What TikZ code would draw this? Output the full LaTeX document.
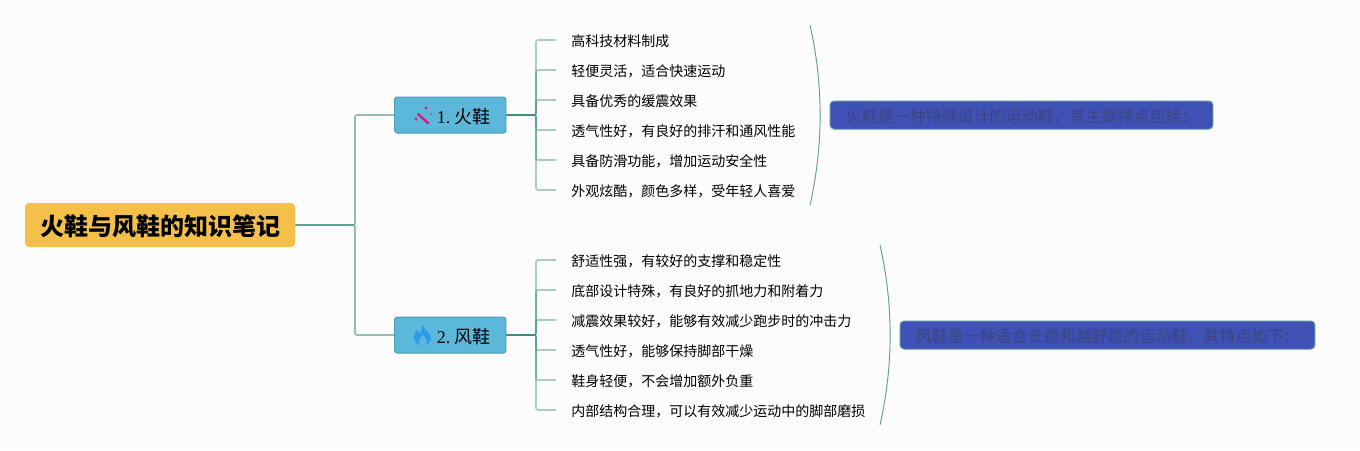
\documentclass[tikz,border=0pt]{standalone}
\usepackage{fontspec}
\setmainfont{Liberation Serif}
\newfontfamily\cjk{Noto Sans CJK SC}
\definecolor{pagebg}{HTML}{FCFCFC}
\definecolor{rootfill}{HTML}{F5C04A}
\definecolor{topicfill}{HTML}{5BB8DA}
\definecolor{topicline}{HTML}{4F9DB5}
\definecolor{notefill}{HTML}{3F51B5}
\definecolor{noteline}{HTML}{5A8FA8}
\definecolor{notetext}{HTML}{3D4580}
\definecolor{linkc}{HTML}{3A8A78}
\definecolor{wandc}{HTML}{D81B7A}
\definecolor{flamec}{HTML}{2E9BE6}
\tikzset{
  rootbox/.style={fill=rootfill, rounded corners=3pt, minimum width=202.5pt, minimum height=33pt, inner sep=0pt, text height=17.8pt, text depth=2pt, font=\cjk\bfseries\fontsize{18}{20}\selectfont},
  topicbox/.style={fill=topicfill, draw=topicline, line width=.75pt, rounded corners=2pt, minimum height=27pt, text width=61pt, inner xsep=11.25pt, inner ysep=0pt, align=right, text height=13.7pt, text depth=1.5pt, font=\fontsize{13.5}{15}\selectfont},
  itemtext/.style={anchor=west, inner xsep=11.25pt, inner ysep=0pt, text height=10.5pt, text depth=1pt, font=\cjk\fontsize{10.5}{12}\selectfont},
  notebox/.style={fill=notefill, draw=noteline, line width=.75pt, rounded corners=3pt, minimum height=21pt, inner sep=0pt, text=notetext, text height=12pt, text depth=1.3pt, font=\cjk\fontsize{12}{14}\selectfont},
  link/.style={draw=linkc, draw opacity=.55, line width=1.2pt, rounded corners=1.5pt},
  twig/.style={draw=linkc, draw opacity=.42, line width=1.2pt, rounded corners=1.5pt},
  brace/.style={draw=linkc, draw opacity=.8, line width=.7pt}
}
\begin{document}
\begin{tikzpicture}[x=.75pt, y=-.75pt]
    \fill[pagebg] (0,0) rectangle (1360,450);
    % root and the two topics
    \node[rootbox] (root) at (160,225) {火鞋与风鞋的知识笔记};
    \node[topicbox] (fire) at (450.3,115) {1.\hspace{3.5pt}{\cjk 火鞋}};
    \node[topicbox] (wind) at (450.3,335) {2.\hspace{3.5pt}{\cjk 风鞋}};
    \coordinate (fork) at (355,225);
    \draw[link] (root.east) -- (fork) |- (fire.west);
    \draw[link] (root.east) -- (fork) |- (wind.west);
    % items of the first topic
    \coordinate (fireS) at (536,115);
    \foreach \i/\t in {1/高科技材料制成, 2/轻便灵活，适合快速运动, 3/具备优秀的缓震效果, 4/透气性好，有良好的排汗和通风性能, 5/具备防滑功能，增加运动安全性, 6/外观炫酷，颜色多样，受年轻人喜爱} {
        \node[itemtext] (f\i) at (556,10+30*\i) {\t};
        \draw[twig] (fire.east) -- (fireS) |- (f\i.west);
    }
    % items of the second topic
    \coordinate (windS) at (536,335);
    \foreach \i/\t in {1/舒适性强，有较好的支撑和稳定性, 2/底部设计特殊，有良好的抓地力和附着力, 3/减震效果较好，能够有效减少跑步时的冲击力, 4/透气性好，能够保持脚部干燥, 5/鞋身轻便，不会增加额外负重, 6/内部结构合理，可以有效减少运动中的脚部磨损} {
        \node[itemtext] (w\i) at (556,230+30*\i) {\t};
        \draw[twig] (wind.east) -- (windS) |- (w\i.west);
    }
    % summary brackets and notes
    \coordinate (fireT) at (810,25);
    \coordinate (fireB) at (810,205);
    \coordinate (windT) at (880,245);
    \coordinate (windB) at (880,425);
    \draw[brace] (fireT) .. controls (823.5,85) and (823.5,145) .. (fireB);
    \draw[brace] (windT) .. controls (893.5,305) and (893.5,365) .. (windB);
    \node[notebox, minimum width=287pt] (fireN) at (1021.5,115) {火鞋是一种特殊设计的运动鞋，其主要特点包括：};
    \node[notebox, minimum width=311pt] (windN) at (1107.5,335) {风鞋是一种适合长跑和越野跑的运动鞋，其特点如下：};
    % icons
    \draw[wandc, line width=1.8pt, line cap=round] (418,114) -- (428,123);
    \foreach \x/\y/\r in {426/108/1.6, 431/114/.8, 416/119/1.6} \fill[wandc] (\x,\y) circle (\r);
    \fill[flamec] (423,325) .. controls (424,331) and (431,332) .. (431,338) .. controls (431,343) and (427,345) .. (423,345) .. controls (418,345) and (414,343) .. (414,337) .. controls (414,334) and (416,332) .. (417,330) .. controls (418,332) and (419,333) .. (420,333) .. controls (421,331) and (422,328) .. (423,325) -- cycle;
    \fill[topicfill] (423,335) .. controls (424,338) and (427,339) .. (427,341) .. controls (427,344) and (425,345) .. (423,345) .. controls (420,345) and (419,343) .. (419,341) .. controls (419,339) and (422,338) .. (423,335) -- cycle;
\end{tikzpicture}
\end{document}
